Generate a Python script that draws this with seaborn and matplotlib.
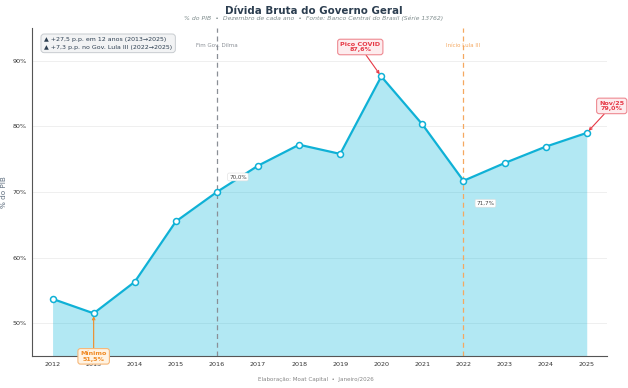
import matplotlib
matplotlib.use("Agg")
import matplotlib.pyplot as plt
import seaborn as sns
import pandas as pd

anos = [2012, 2013, 2014, 2015, 2016, 2017, 2018, 2019, 2020, 2021, 2022, 2023, 2024, 2025]
divida = [53.7, 51.5, 56.3, 65.5, 70.0, 74.0, 77.2, 75.8, 87.6, 80.3, 71.7, 74.4, 76.9, 79.0]
yticks = [50, 60, 70, 80, 90]

sns.set_style("white")
plt.rcParams['font.family'] = ['DejaVu Sans']

CYAN = "#0fb1d6"
RED = "#e63946"
ORANGE = "#f08a24"
NAVY = "#2c3e50"
GRAY = "#7f8c8d"

df = pd.DataFrame({"ano": anos, "divida": divida})

fig = plt.figure(figsize=(6.28, 3.88), dpi=100)
ax = fig.add_axes([0.051, 0.0825, 0.916, 0.8455])

ax.set_xlim(2011.5, 2025.5)
ax.set_ylim(45, 95)

ax.fill_between(df["ano"], df["divida"], 45, color="#00b4d8", alpha=0.3, linewidth=0, zorder=1)
sns.lineplot(data=df, x="ano", y="divida", ax=ax, color=CYAN, linewidth=1.6,
             marker="o", markersize=4.3, markerfacecolor="white",
             markeredgecolor=CYAN, markeredgewidth=1.1, zorder=3)

# grid
for y in yticks:
    ax.axhline(y, color="#ececec", linewidth=0.6, zorder=0)

# vertical reference lines
ax.axvline(2016, color="#8a8f96", linestyle=(0, (4, 3)), linewidth=0.9, zorder=2)
ax.axvline(2022, color="#f5a860", linestyle=(0, (4, 3)), linewidth=0.9, zorder=2)
ax.text(2016, 92.25, "Fim Gov. Dilma", ha="center", va="center", fontsize=4.0, color="#8a8f96")
ax.text(2022, 92.25, "Início Lula III", ha="center", va="center", fontsize=4.0, color="#f5a860")

# summary box
ax.text(0.021, 0.972, "▲ +27,5 p.p. em 12 anos (2013→2025)\n▲ +7,3 p.p. no Gov. Lula III (2022→2025)",
        transform=ax.transAxes, ha="left", va="top", fontsize=4.5, color=NAVY, linespacing=1.6,
        bbox=dict(boxstyle="round,pad=0.5", facecolor="#f2f3f4", edgecolor="#c8ccd0", linewidth=0.7))

# annotations
def box(ec, fc):
    return dict(boxstyle="round,pad=0.4", facecolor=fc, edgecolor=ec, linewidth=0.8)

ax.annotate("Pico COVID\n87,6%", xy=(2020, 87.6), xytext=(-21, 29.5), textcoords="offset pixels",
            ha="center", va="center", fontsize=4.6, fontweight="bold", color=RED, linespacing=1.1,
            bbox=box("#ee8a92", "#fdecee"),
            arrowprops=dict(arrowstyle="->", color=RED, lw=0.8, shrinkA=0, shrinkB=2), zorder=5)
ax.annotate("Nov/25\n79,0%", xy=(2025, 79.0), xytext=(25, 27), textcoords="offset pixels",
            ha="center", va="center", fontsize=4.6, fontweight="bold", color=RED, linespacing=1.1,
            bbox=box("#ee8a92", "#fdecee"),
            arrowprops=dict(arrowstyle="->", color=RED, lw=0.8, shrinkA=0, shrinkB=2), zorder=5,
            annotation_clip=False)
ax.annotate("Mínimo\n51,5%", xy=(2013, 51.5), xytext=(0, -43), textcoords="offset pixels",
            ha="center", va="center", fontsize=4.6, fontweight="bold", color=ORANGE, linespacing=1.1,
            bbox=box("#f6b778", "#fff3e3"),
            arrowprops=dict(arrowstyle="->", color=ORANGE, lw=0.8, shrinkA=0, shrinkB=2), zorder=5,
            annotation_clip=False)
ax.annotate("70,0%", xy=(2016, 70.0), xytext=(21, 15), textcoords="offset pixels",
            ha="center", va="center", fontsize=4.1, color="#444444",
            bbox=dict(boxstyle="round,pad=0.25", facecolor="white", edgecolor="#dddddd", linewidth=0.4), zorder=5)
ax.annotate("71,7%", xy=(2022, 71.7), xytext=(22, -22.5), textcoords="offset pixels",
            ha="center", va="center", fontsize=4.1, color="#444444",
            bbox=dict(boxstyle="round,pad=0.25", facecolor="white", edgecolor="#dddddd", linewidth=0.4), zorder=5)

# axes styling
ax.set_xticks(anos)
ax.set_xticklabels([str(a) for a in anos])
ax.set_yticks(yticks)
ax.set_yticklabels([f"{v}%" for v in yticks])
ax.tick_params(axis="both", labelsize=4.6, colors="#333333", length=2, width=0.6, pad=2)
ax.set_xlabel("")
ax.set_ylabel("% do PIB", fontsize=5.2, color="#5d6d7e", labelpad=4)
for s in ["top", "right"]:
    ax.spines[s].set_visible(False)
for s in ["left", "bottom"]:
    ax.spines[s].set_color("#555555")
    ax.spines[s].set_linewidth(0.8)

fig.text(0.5, 0.972, "Dívida Bruta do Governo Geral", ha="center", va="center",
         fontsize=7.4, fontweight="bold", color=NAVY)
fig.text(0.5, 0.952, "% do PIB  •  Dezembro de cada ano  •  Fonte: Banco Central do Brasil (Série 13762)",
         ha="center", va="center", fontsize=4.4, style="italic", color=GRAY)
fig.text(0.503, 0.023, "Elaboração: Moat Capital  •  Janeiro/2026", ha="center", va="center",
         fontsize=4.1, color="#888888")

fig.savefig("out.png", dpi=100)
